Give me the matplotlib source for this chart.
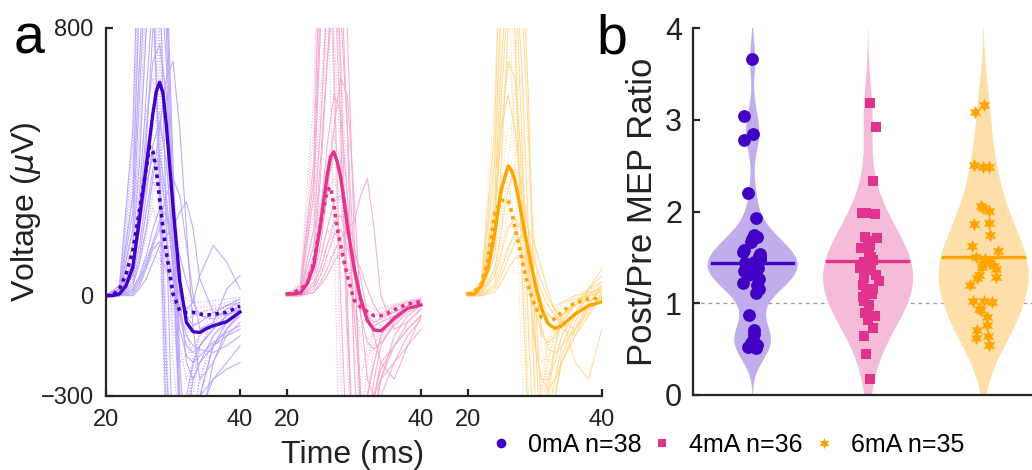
import numpy as np
import matplotlib
matplotlib.use('Agg')
import matplotlib.pyplot as plt
from matplotlib.lines import Line2D

plt.rcParams['font.family'] = ['Liberation Sans', 'DejaVu Sans']

# ---- panel a: MEP traces ----
# time knots for the single traces (ms)
t_knots = [20, 22, 24, 25, 26, 27, 28, 29, 30, 31, 32, 33, 34, 36, 38, 40]
# time points for the group mean traces (ms)
t_mean = [20, 21, 22, 23, 24, 25, 26, 26.5, 27, 27.5, 28, 28.5, 29, 30, 31, 32, 33, 34, 35, 36, 38, 40]

groups = ['0mA', '4mA', '6mA']
n_subj = [38, 36, 35]
dark = ['#4200c4', '#e2338c', '#ffa500']
light = ['#b9a3fa', '#f2a9cf', '#ffd98f']
fill = ['#bfaeeb', '#f5bcd9', '#fedfaa']

# group means (uV): post = solid, pre = dotted
post_mean_0 = [0, 0, 5, 30, 85, 230, 385, 465, 545, 610, 638, 605, 510, 266, 45, -80, -108, -110, -98, -90, -78, -49]
pre_mean_0 = [0, 2, 20, 65, 135, 255, 380, 445, 430, 375, 290, 200, 130, 5, -45, -50, -50, -55, -58, -56, -50, -31]
post_mean_4 = [5, 5, 8, 35, 90, 210, 360, 415, 430, 400, 355, 285, 210, 85, -10, -75, -103, -105, -88, -68, -38, -28]
pre_mean_4 = [5, 8, 20, 35, 100, 215, 315, 325, 270, 200, 150, 105, 60, -13, -35, -48, -60, -60, -53, -42, -25, -18]
post_mean_6 = [5, 5, 30, 80, 190, 320, 388, 375, 345, 295, 240, 186, 135, 37, -40, -85, -98, -90, -72, -55, -30, -18]
pre_mean_6 = [5, 10, 37, 110, 246, 285, 285, 250, 206, 160, 115, 67, 30, -33, -66, -80, -68, -50, -33, -22, -10, -8]

# single-subject traces (uV) at t_knots
post_0 = [
    [0, 5, 60, 150, 300, 450, 520, 400, 150, -60, -150, -170, -150, -100, -60, -30],
    [0, 10, 200, 600, 1000, 1300, 1200, 800, 200, -400, -700, -600, -400, -200, -100, -50],
    [0, 0, 20, 60, 120, 200, 260, 240, 150, 30, -60, -90, -80, -50, -30, -10],
    [0, 20, 300, 900, 1500, 1600, 1000, 200, -500, -900, -800, -500, -300, -150, -80, -40],
    [0, 0, 10, 40, 90, 150, 200, 230, 200, 120, 40, -20, -60, -70, -40, -20],
    [0, 5, 80, 250, 500, 700, 750, 600, 300, 0, -200, -250, -200, -120, -80, -50],
    [0, 0, 30, 100, 200, 350, 500, 650, 700, 500, 200, -100, -250, -200, -120, -80],
    [0, 0, 0, 20, 50, 100, 150, 180, 200, 250, 280, 200, 50, -50, -60, -40],
    [0, 10, 150, 400, 800, 1100, 1300, 1000, 400, -200, -500, -450, -300, -150, -100, -60],
    [0, 0, 40, 120, 250, 380, 420, 300, 80, -100, -180, -200, -180, -140, -110, -90],
    [0, 0, 5, 30, 80, 140, 160, 120, 60, 0, -40, -20, 60, 150, 100, 20],
    [0, 15, 250, 700, 1100, 900, 400, -200, -600, -500, -300, -200, -150, -100, -60, -30],
    [0, 5, 100, 300, 600, 900, 1100, 900, 300, -300, -600, -500, -350, -250, -200, -150],
    [0, 30, 500, 1200, 1500, 1000, 300, -400, -800, -700, -400, -250, -200, -150, -120, -100],
    [0, 0, 60, 200, 450, 800, 1000, 700, 100, -400, -500, -400, -300, -250, -220, -200],
    [0, 5, 90, 200, 330, 420, 380, 250, 100, -50, -120, -150, -160, -170, -150, -120],
    [0, 0, 15, 50, 100, 160, 220, 300, 350, 300, 150, 0, -100, -80, 20, 60],
]
pre_0 = [
    [0, 10, 120, 250, 380, 430, 300, 100, -50, -80, -70, -60, -50, -40, -30, -20],
    [0, 20, 350, 900, 1400, 1300, 700, -100, -700, -800, -500, -300, -150, -80, -40, -20],
    [0, 5, 50, 120, 200, 260, 200, 80, -20, -60, -70, -60, -50, -40, -30, -20],
    [0, 15, 200, 500, 900, 1000, 800, 300, -200, -400, -350, -250, -150, -80, -50, -30],
    [0, 0, 20, 60, 110, 150, 130, 70, 10, -30, -40, -40, -35, -30, -20, -10],
    [0, 30, 400, 1000, 1300, 900, 200, -500, -900, -700, -400, -200, -100, -60, -30, -10],
    [0, 5, 80, 200, 350, 500, 550, 400, 100, -150, -250, -200, -150, -100, -70, -40],
    [0, 10, 150, 350, 550, 650, 500, 200, -100, -200, -180, -150, -120, -90, -60, -40],
    [0, 0, 30, 90, 180, 300, 420, 480, 350, 100, -100, -200, -200, -150, -100, -60],
    [0, 20, 300, 700, 1000, 1100, 900, 500, 0, -350, -450, -350, -250, -150, -80, -40],
    [0, 10, 180, 450, 800, 1200, 1400, 1000, 300, -300, -500, -400, -250, -120, -60, -30],
    [0, 5, 60, 150, 260, 340, 300, 180, 40, -60, -100, -90, -70, -50, -30, -20],
    [0, 25, 450, 1100, 1500, 1200, 500, -300, -800, -600, -350, -200, -120, -80, -50, -30],
    [0, 0, 20, 50, 90, 120, 110, 80, 40, 10, -10, -20, -20, -15, -10, -5],
]
post_4 = [
    [0, 5, 80, 200, 330, 420, 380, 250, 80, -60, -140, -160, -140, -90, -50, -30],
    [0, 20, 300, 800, 1200, 1000, 500, -100, -500, -600, -400, -250, -150, -80, -40, -20],
    [0, 0, 30, 80, 150, 220, 240, 180, 90, 0, -60, -80, -70, -50, -30, -15],
    [0, 10, 150, 400, 700, 900, 850, 500, 100, -300, -450, -380, -250, -120, -60, -30],
    [0, 0, 10, 40, 80, 130, 170, 200, 220, 300, 350, 200, 0, -100, -80, -40],
    [0, 5, 60, 150, 300, 500, 650, 600, 300, -50, -250, -300, -250, -150, -80, -40],
    [0, 30, 400, 1100, 1300, 700, 0, -500, -700, -500, -300, -200, -120, -60, -30, -10],
    [0, 0, 20, 60, 120, 180, 200, 150, 60, -20, -70, -90, -80, -60, -40, -20],
    [0, 10, 100, 250, 450, 600, 550, 300, -50, -300, -350, -300, -220, -150, -100, -60],
    [0, 0, 40, 110, 200, 280, 300, 250, 150, 50, -50, -120, -200, -250, -150, -60],
    [0, 5, 120, 350, 700, 1000, 1100, 800, 200, -400, -600, -450, -300, -200, -120, -70],
    [0, 10, 200, 500, 900, 1200, 1000, 500, -200, -600, -500, -300, -200, -150, -100, -60],
    [0, 0, 10, 30, 60, 100, 130, 140, 120, 80, 20, -30, -60, -50, -30, -10],
    [0, 20, 350, 900, 1300, 1200, 700, 0, -600, -700, -500, -350, -250, -200, -150, -100],
]
pre_4 = [
    [0, 15, 150, 280, 350, 280, 150, 20, -60, -80, -70, -60, -50, -40, -30, -20],
    [0, 30, 500, 1100, 1200, 600, -200, -800, -700, -400, -200, -100, -60, -30, -20, -10],
    [0, 5, 60, 130, 190, 200, 140, 60, -10, -40, -50, -45, -40, -30, -20, -10],
    [0, 20, 250, 600, 900, 800, 400, -100, -400, -450, -300, -200, -120, -70, -40, -20],
    [0, 0, 20, 60, 100, 130, 120, 80, 30, -10, -30, -40, -35, -25, -15, -10],
    [0, 10, 100, 250, 400, 480, 400, 200, -20, -150, -180, -150, -110, -70, -40, -20],
    [0, 40, 600, 1300, 1000, 200, -600, -900, -500, -250, -150, -100, -60, -30, -15, -5],
    [0, 5, 80, 180, 300, 350, 280, 120, -30, -120, -130, -110, -90, -60, -40, -20],
    [0, 10, 200, 500, 800, 900, 700, 300, -150, -350, -300, -200, -130, -80, -50, -30],
    [0, 0, 30, 90, 150, 190, 170, 100, 20, -40, -60, -60, -50, -35, -20, -10],
    [0, 20, 300, 800, 1300, 1200, 600, -200, -600, -500, -300, -150, -80, -40, -20, -10],
]
post_6 = [
    [0, 10, 150, 300, 380, 350, 250, 100, -40, -120, -140, -120, -80, -30, 10, 20],
    [0, 30, 400, 900, 1200, 1000, 500, -100, -500, -500, -300, -150, -60, -20, 10, 20],
    [0, 5, 60, 130, 200, 230, 200, 130, 50, -20, -60, -70, -60, -30, 0, 10],
    [0, 15, 250, 600, 900, 1000, 700, 200, -300, -450, -350, -250, -150, -60, 0, 30],
    [0, 0, 30, 80, 140, 190, 220, 200, 150, 80, 10, -50, -100, -120, -60, 0],
    [0, 10, 200, 500, 700, 650, 400, 100, -150, -250, -250, -200, -120, -50, 20, 60],
    [0, 40, 500, 1200, 1300, 800, 100, -400, -600, -400, -250, -150, -80, -20, 20, 40],
    [0, 5, 80, 200, 320, 380, 340, 200, 30, -100, -160, -170, -150, -100, -40, 0],
    [0, 0, 20, 60, 110, 160, 180, 160, 100, 40, -10, -40, -60, -200, -250, -100],
    [0, 20, 300, 700, 1000, 1100, 900, 500, 0, -350, -400, -300, -180, -80, 20, 80],
    [0, 10, 120, 400, 800, 1200, 1100, 600, -100, -500, -450, -300, -200, -100, -20, 20],
    [0, 0, 10, 40, 80, 110, 120, 100, 60, 10, -30, -60, -80, -100, -50, 10],
    [0, 20, 250, 500, 600, 500, 300, 50, -150, -250, -280, -250, -200, -120, -30, 30],
]
pre_6 = [
    [0, 20, 200, 320, 320, 240, 130, 30, -40, -70, -60, -40, -20, 0, 10, 10],
    [0, 40, 600, 1200, 1000, 400, -200, -600, -500, -250, -120, -60, -20, 0, 10, 10],
    [0, 5, 80, 160, 210, 200, 150, 80, 10, -30, -40, -30, -20, -10, 0, 5],
    [0, 25, 350, 800, 1000, 700, 200, -300, -450, -350, -200, -100, -40, 0, 20, 20],
    [0, 0, 40, 100, 150, 170, 150, 100, 40, -10, -30, -30, -20, -10, 0, 0],
    [0, 10, 150, 350, 500, 500, 350, 100, -120, -200, -180, -120, -70, -20, 10, 20],
    [0, 15, 250, 550, 700, 550, 250, -50, -250, -280, -200, -120, -60, -10, 20, 30],
    [0, 5, 60, 200, 400, 600, 650, 450, 150, -150, -300, -280, -200, -100, -20, 20],
    [0, 30, 450, 900, 1200, 900, 300, -300, -500, -300, -150, -80, -30, 0, 10, 10],
    [0, 10, 120, 250, 350, 370, 300, 150, 0, -100, -130, -100, -60, -20, 10, 20],
    [0, 5, 40, 120, 260, 420, 500, 380, 120, -100, -200, -180, -120, -50, 0, 20],
]

# ---- panel b: post/pre ratio per subject ----
ratio_0 = [3.66, 3.04, 2.84, 2.78, 2.20, 1.93, 1.74, 1.72, 1.70, 1.67, 1.58, 1.56, 1.54,
           1.52, 1.50, 1.47, 1.44, 1.42, 1.40, 1.38, 1.35, 1.31, 1.28, 1.26, 1.22, 1.20,
           1.16, 1.11, 0.87, 0.71, 0.66, 0.60, 0.57, 0.55, 0.52, 0.51, 1.45, 1.33]
jit_0 = [0.00, -0.07, 0.01, -0.07, -0.04, 0.03, 0.02, 0.04, 0.00, -0.01, -0.07, -0.08, 0.07,
         0.06, 0.07, 0.07, -0.06, 0.04, 0.01, 0.05, -0.07, -0.04, 0.05, 0.06, -0.08, 0.04,
         0.06, 0.03, -0.03, 0.02, 0.02, 0.01, -0.01, 0.04, -0.04, 0.03, 0.02, 0.00]
ratio_4 = [3.18, 2.92, 2.33, 1.98, 1.98, 1.97, 1.72, 1.71, 1.68, 1.64, 1.60, 1.55, 1.47,
           1.45, 1.38, 1.36, 1.31, 1.28, 1.24, 1.20, 1.15, 1.11, 1.07, 1.02, 0.98, 0.89,
           0.87, 0.86, 0.82, 0.73, 0.64, 0.45, 0.17, 1.40, 1.50, 1.10]
jit_4 = [0.02, 0.07, 0.05, -0.05, -0.01, 0.06, -0.02, 0.08, 0.00, 0.02, -0.06, 0.01, 0.05,
         -0.03, -0.07, 0.00, 0.07, -0.03, 0.10, -0.04, 0.05, -0.01, -0.04, -0.03, 0.01, -0.02,
         0.00, 0.06, 0.00, 0.05, -0.03, -0.01, 0.02, 0.03, 0.03, 0.04]
ratio_6 = [3.16, 3.08, 2.51, 2.48, 2.48, 2.06, 2.04, 2.01, 1.86, 1.88, 1.74, 1.62, 1.57,
           1.50, 1.48, 1.45, 1.41, 1.40, 1.37, 1.31, 1.29, 1.27, 1.20, 1.02, 1.02, 1.01,
           0.94, 0.93, 0.85, 0.76, 0.71, 0.64, 0.62, 0.54, 1.43]
jit_6 = [0.01, -0.07, -0.08, 0.00, 0.05, -0.02, 0.00, 0.05, -0.08, 0.05, 0.06, -0.10, 0.13,
         -0.06, 0.02, 0.05, 0.09, -0.01, 0.11, -0.04, 0.11, -0.05, -0.11, -0.09, 0.01, 0.08,
         -0.04, -0.02, 0.03, 0.03, -0.05, 0.04, -0.06, 0.05, -0.01]
mean_ratio = [1.44, 1.46, 1.50]
bandwidth = [0.19, 0.33, 0.36]

posts = [post_0, post_4, post_6]
pres = [pre_0, pre_4, pre_6]
post_means = [post_mean_0, post_mean_4, post_mean_6]
pre_means = [pre_mean_0, pre_mean_4, pre_mean_6]
ratios = [ratio_0, ratio_4, ratio_6]
jits = [jit_0, jit_4, jit_6]
markers = ['o', 's', (6, 1, 0)]
msizes = [85, 50, 95]

spine_c = '#262626'
fig = plt.figure(figsize=(10.32, 4.7), dpi=100)

# panel a, three 20 ms windows side by side on one axis
ax = fig.add_axes([106 / 1032, 74 / 470, 496 / 1032, 368 / 470])
gap = 27
for k in range(3):
    off = k * gap - 20
    tk = np.array(t_knots) + off
    for tr in posts[k]:
        ax.plot(tk, tr, color=light[k], lw=0.8, alpha=0.9, zorder=1)
    for tr in pres[k]:
        ax.plot(tk, tr, color=light[k], lw=0.8, alpha=0.9, ls=':', zorder=1)
    tm = np.array(t_mean) + off
    ax.plot(tm, pre_means[k], color=dark[k], lw=2.6, ls=(0, (1, 1.2)), zorder=3)
    ax.plot(tm, post_means[k], color=dark[k], lw=2.4, zorder=3)

ax.set_xlim(0, 2 * gap + 20)
ax.set_ylim(-300, 800)
ax.set_xticks([0, 20, gap, gap + 20, 2 * gap, 2 * gap + 20])
ax.set_xticklabels(['20', '40'] * 3)
ax.set_yticks([-300, 0, 800])
ax.tick_params(direction='in', length=5, width=1.6, labelsize=17, pad=9,
               colors=spine_c, labelcolor='#222222')
for s in ['top', 'right']:
    ax.spines[s].set_visible(False)
for s in ['left', 'bottom']:
    ax.spines[s].set_linewidth(1.6)
    ax.spines[s].set_color(spine_c)

fig.text(26 / 1032, 0.549, r'Voltage ($\mu$V)', rotation=90, ha='center', va='center',
         fontsize=23, color='#222222')
fig.text(353 / 1032, 7 / 470, 'Time (ms)', ha='center', va='baseline', fontsize=23,
         color='#222222')

# panel b, violins
ax2 = fig.add_axes([693 / 1032, 75 / 470, 339 / 1032, 367 / 470])
ax2.axhline(1, color='#999999', lw=0.9, ls=(0, (3, 3)), zorder=0)
yy = np.linspace(0, 4.2, 400)
for k in range(3):
    d = np.array(ratios[k])
    dens = np.exp(-0.5 * ((yy[:, None] - d[None, :]) / bandwidth[k]) ** 2).sum(axis=1)
    half = dens / dens.max() * 0.39
    ax2.fill_betweenx(yy, k + 1 - half, k + 1 + half, color=fill[k], lw=0, zorder=1)
    ax2.scatter(k + 1 + np.array(jits[k]), d, s=msizes[k], marker=markers[k],
                color=dark[k], lw=0, zorder=3)
    ax2.plot([k + 1 - 0.35, k + 1 + 0.35], [mean_ratio[k]] * 2, color=dark[k], lw=2.4,
             zorder=4)

ax2.set_xlim(0.488, 3.423)
ax2.set_ylim(0, 4)
ax2.set_xticks([])
ax2.set_yticks([0, 1, 2, 3, 4])
ax2.tick_params(direction='in', length=5, width=1.6, labelsize=22, pad=8,
                colors=spine_c, labelcolor='#222222')
for s in ['top', 'right']:
    ax2.spines[s].set_visible(False)
for s in ['left', 'bottom']:
    ax2.spines[s].set_linewidth(1.6)
    ax2.spines[s].set_color(spine_c)

fig.text(643 / 1032, 0.549, 'Post/Pre MEP Ratio', rotation=90, ha='center', va='center',
         fontsize=25, color='#222222')

# panel letters
fig.text(14 / 1032, (470 - 53) / 470, 'a', fontsize=40, va='baseline', color='black')
fig.text(596 / 1032, (470 - 53) / 470, 'b', fontsize=40, va='baseline', color='black')

# legend
handles = [Line2D([], [], ls='none', marker=markers[k], color=dark[k], markeredgewidth=0,
                  markersize=[7, 6, 8][k]) for k in range(3)]
labels = [f'{g} n={n}' for g, n in zip(groups, n_subj)]
fig.legend(handles, labels, loc='center', bbox_to_anchor=(726 / 1032, 25 / 470), ncol=3,
           frameon=False, fontsize=18, handlelength=1.0, handletextpad=0.58,
           columnspacing=0.34, borderpad=0)

fig.savefig('out.png', dpi=100)
